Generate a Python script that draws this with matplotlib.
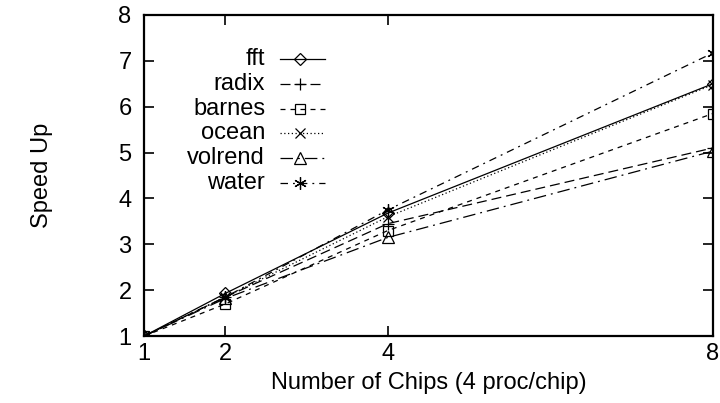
import matplotlib
matplotlib.use("Agg")
import matplotlib.pyplot as plt

plt.rcParams["font.family"] = ["Liberation Sans", "DejaVu Sans"]

chips = [1, 2, 4, 8]
names = ["fft", "radix", "barnes", "ocean", "volrend", "water"]
fft = [1.0, 1.93, 3.68, 6.50]
radix = [1.0, 1.85, 3.45, 5.10]
barnes = [1.0, 1.70, 3.30, 5.85]
ocean = [1.0, 1.85, 3.60, 6.48]
volrend = [1.0, 1.82, 3.15, 5.03]
water = [1.0, 1.85, 3.75, 7.17]
series = [fft, radix, barnes, ocean, volrend, water]

markers = ["D", "+", "s", "x", "^", (6, 2, 0)]
msizes = [6, 8, 7, 7, 8, 9]
styles = ["-", (0, (8, 4)), (0, (4, 4)), (0, (1, 2)),
          (0, (10, 4, 1.5, 4)), (0, (6, 4, 1.5, 4))]

fig = plt.figure(figsize=(7.2, 4.03), dpi=100)
ax = fig.add_axes([0.2, 0.166, 0.79, 0.797])

for vals, mk, ms, ls in zip(series, markers, msizes, styles):
    ax.plot(chips, vals, color="black", lw=0.9, linestyle=ls,
            marker=mk, markersize=ms, markerfacecolor="none",
            markeredgecolor="black", markeredgewidth=0.9)

ax.set_xlim(1, 8)
ax.set_ylim(1, 8)
ax.set_xticks(chips)
ax.set_yticks(range(1, 9))
ax.tick_params(direction="in", length=7, width=1.2, labelsize=17,
               top=True, right=True)
ax.tick_params(axis="y", pad=9)
ax.tick_params(axis="x", pad=5)
for sp in ax.spines.values():
    sp.set_linewidth(1.6)

ax.set_xlabel("Number of Chips (4 proc/chip)", fontsize=17, va="center")
ax.set_ylabel("Speed Up", fontsize=17, va="center")
ax.xaxis.set_label_coords(0.5, -0.146)
ax.yaxis.set_label_coords(-0.18, 0.5)

# gnuplot-style key: right-aligned label, sample line with marker on the right
tr = ax.transAxes
x_txt, x0, x1 = 0.213, 0.239, 0.318
xm = (x0 + x1) / 2 - 0.005
for i, (name, mk, ms, ls) in enumerate(zip(names, markers, msizes, styles)):
    yk = 0.863 - i * 0.0772
    ax.text(x_txt, yk, name, transform=tr, ha="right", va="center", fontsize=17)
    ax.plot([x0, x1], [yk, yk], transform=tr, color="black", lw=0.9,
            linestyle=ls, clip_on=False)
    ax.plot([xm], [yk], transform=tr, marker=mk, markersize=ms,
            markerfacecolor="none", markeredgecolor="black",
            markeredgewidth=0.9, clip_on=False)

fig.savefig("out.png", dpi=100)
